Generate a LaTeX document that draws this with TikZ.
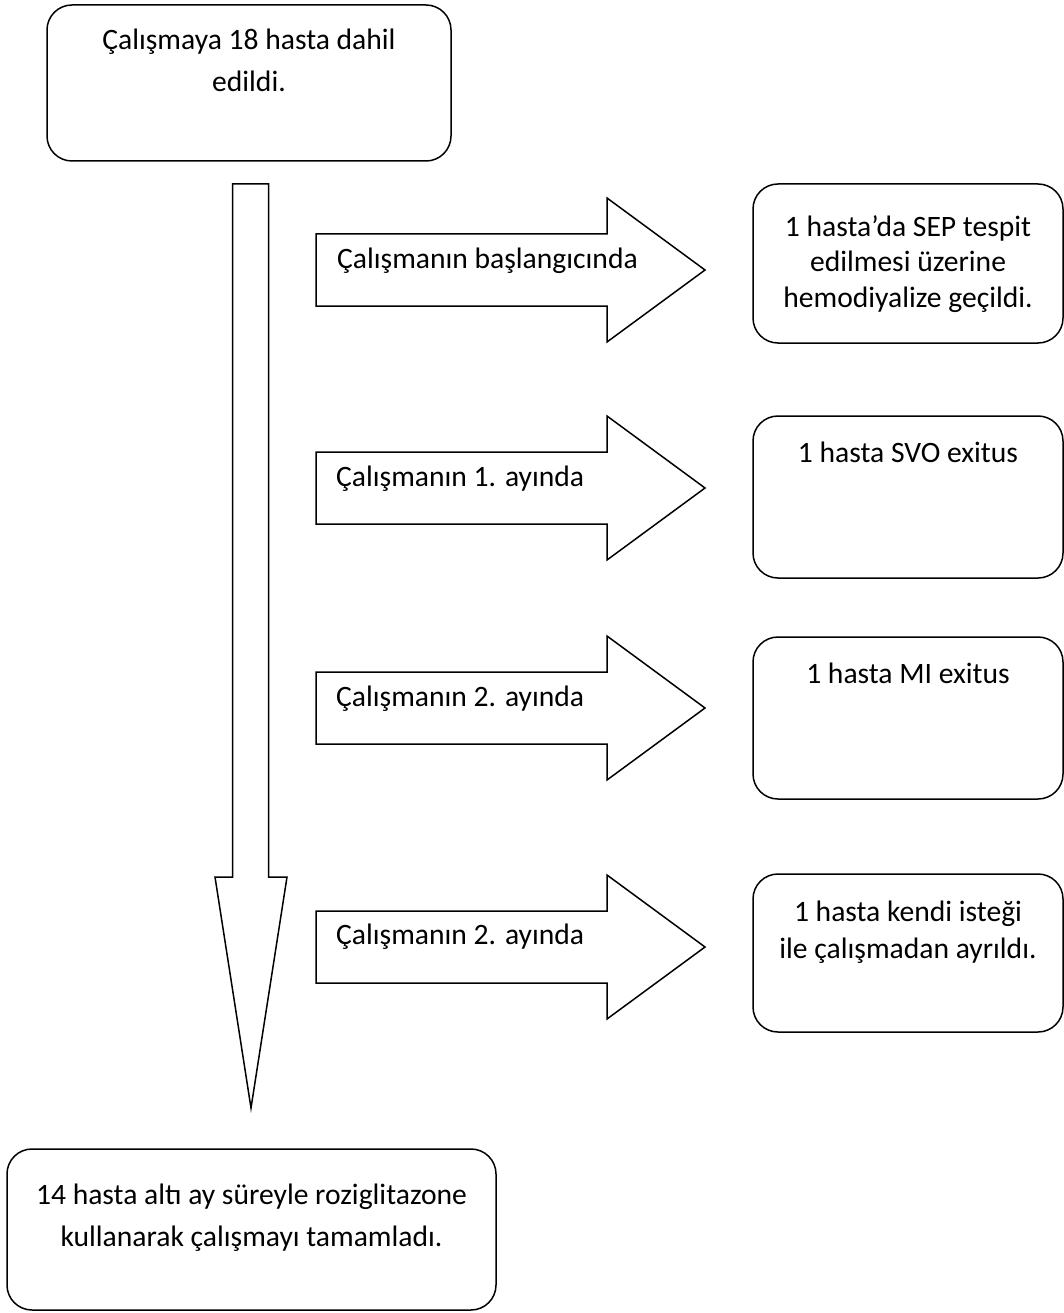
\documentclass[tikz,border=0pt]{standalone}
\usepackage{fontspec}
\setmainfont{Carlito}
\begin{document}
\begin{tikzpicture}[x=1pt,y=-1pt,
  box/.style={draw=black, line width=1.5pt, rounded corners=25pt, inner sep=0pt, fill=white},
  shapeline/.style={draw=black, line width=1.5pt, line join=miter, fill=white},
  boxtext/.style={inner sep=0pt, align=center, anchor=base, font=\fontsize{29.6}{41.7}\selectfont},
  boxtextsmall/.style={inner sep=0pt, align=center, anchor=base, font=\fontsize{29.6}{35.2}\selectfont},
  arrowtext/.style={inner sep=0pt, anchor=base west, font=\fontsize{29.6}{35}\selectfont}
]
\useasboundingbox (0,0) rectangle (1064,1313);
\fill[white] (0,0) rectangle (1064,1313);

% top box
\node[box, minimum width=404pt, minimum height=156pt] (start) at (249,83) {};
\node[boxtext] (starttext) at (249,91.7) {Çalışmaya 18 hasta dahil\\edildi.};

% vertical block arrow
\coordinate (vtip) at (251,1108);
\draw[shapeline] (232.5,184) -- (268.5,184) -- (268.5,877) -- (287,877) -- (vtip) -- (215,877) -- (232.5,877) -- cycle;

% horizontal block arrows
\foreach \c/\n in {270/a1, 488/a2, 708/a3, 947/a4}{
  \coordinate (\n tip) at (705,\c);
  \draw[shapeline] (316,\c-36) -- (607,\c-36) -- (607,\c-72) -- (\n tip) -- (607,\c+72) -- (607,\c+36) -- (316,\c+36) -- cycle;
}
\node[arrowtext] (l1) at (337,269) {Çalışmanın başlangıcında};
\node[arrowtext] (l2) at (336,486) {Çalışmanın 1. ayında};
\node[arrowtext] (l3) at (336,706) {Çalışmanın 2. ayında};
\node[arrowtext] (l4) at (336,944) {Çalışmanın 2. ayında};

% right boxes
\node[box, minimum width=310pt, minimum height=159pt] (r1) at (908,263.5) {};
\node[boxtextsmall] (r1text) at (908,307) {1 hasta’da SEP tespit\\edilmesi üzerine\\hemodiyalize geçildi.};

\node[box, minimum width=310pt, minimum height=162pt] (r2) at (908,497) {};
\node[boxtextsmall] (r2text) at (908,462) {1 hasta SVO exitus};

\node[box, minimum width=310pt, minimum height=162pt] (r3) at (908,718) {};
\node[boxtextsmall] (r3text) at (908,683) {1 hasta MI exitus};

\node[box, minimum width=310pt, minimum height=158pt] (r4) at (908,953) {};
\node[boxtextsmall, font=\fontsize{29.6}{37.3}\selectfont] (r4text) at (908,958.3) {1 hasta kendi isteği\\ile çalışmadan ayrıldı.};

% bottom box
\node[box, minimum width=489pt, minimum height=161pt] (end) at (251.5,1229.5) {};
\node[boxtext] (endtext) at (251.5,1246) {14 hasta altı ay süreyle roziglitazone\\kullanarak çalışmayı tamamladı.};
\end{tikzpicture}
\end{document}
